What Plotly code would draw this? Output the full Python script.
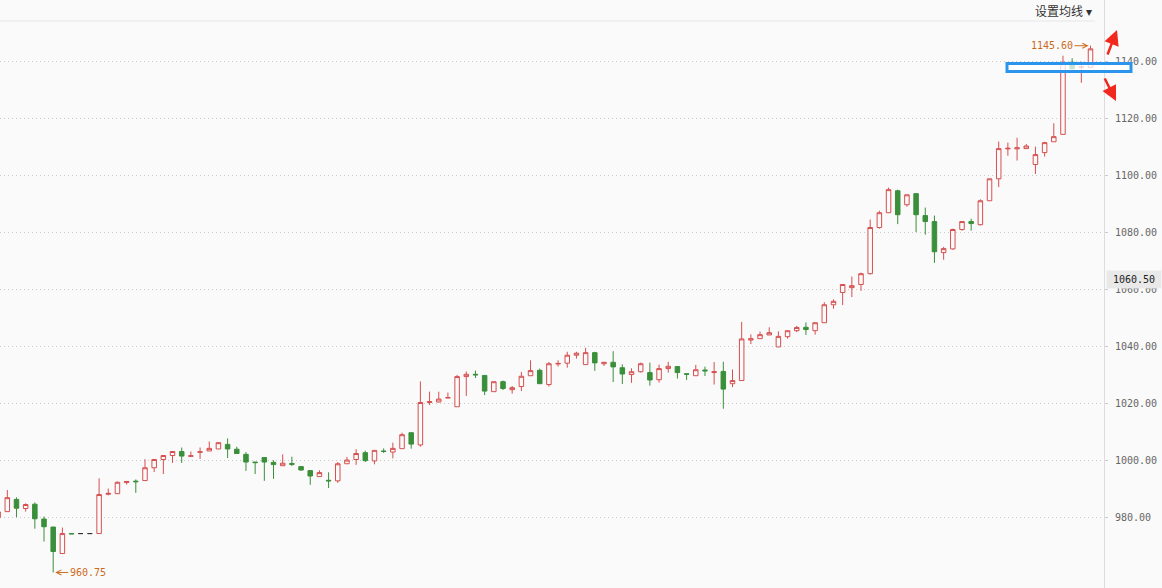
import plotly.graph_objects as go

# ---- data ----
opens = [980.0, 982.1, 986.4, 983.2, 984.7, 979.5, 976.7, 967.4, 974.4, 974.4,
         974.4, 974.4, 988.2, 988.4, 992.3, 992.8, 993.0, 997.5, 1000.4, 1001.8,
         1003.2, 1001.5, 1002.9, 1003.4, 1004.1, 1005.7, 1004.0, 1002.2, 999.5, 1001.1,
         999.4, 998.2, 999.0, 997.9, 996.5, 994.4, 993.1, 992.9, 998.9, 1000.4,
         1002.8, 999.9, 1003.4, 1003.0, 1004.2, 1009.8, 1005.5, 1020.4, 1020.6, 1022.0,
         1018.9, 1029.5, 1030.3, 1029.9, 1024.2, 1027.7, 1024.9, 1026.0, 1029.8, 1031.7,
         1026.7, 1033.9, 1034.2, 1037.0, 1033.7, 1037.9, 1034.0, 1034.5, 1032.6, 1030.2,
         1031.2, 1030.9, 1028.4, 1032.3, 1033.0, 1030.5, 1029.8, 1031.8, 1030.9, 1031.3,
         1027.0, 1028.1, 1042.3, 1042.8, 1044.1, 1039.9, 1043.5, 1045.6, 1046.8, 1045.6,
         1048.4, 1054.7, 1059.0, 1060.7, 1061.8, 1065.6, 1081.8, 1087.0, 1094.7, 1089.8,
         1093.7, 1086.0, 1083.9, 1073.0, 1074.3, 1081.1, 1083.9, 1082.8, 1091.2, 1098.9,
         1109.4, 1109.4, 1109.5, 1103.9, 1108.1, 1111.9, 1114.5, 1139.8, 1138.0, 1138.0]
highs = [983.0, 989.7, 987.1, 985.0, 985.3, 980.4, 976.7, 976.5, 974.4, 974.4,
         974.4, 993.8, 990.2, 992.7, 992.7, 993.4, 1000.5, 1000.4, 1001.8, 1003.2,
         1004.6, 1003.2, 1004.6, 1006.7, 1006.5, 1007.8, 1004.9, 1003.0, 999.5, 1001.1,
         1000.1, 1002.2, 1001.4, 998.1, 996.5, 996.6, 995.9, 999.5, 1001.3, 1004.0,
         1003.5, 1003.6, 1004.3, 1006.3, 1009.8, 1009.8, 1027.8, 1024.2, 1024.2, 1023.9,
         1030.1, 1031.3, 1031.6, 1029.9, 1027.7, 1028.1, 1026.2, 1031.1, 1035.2, 1032.3,
         1034.6, 1035.2, 1038.2, 1038.2, 1039.6, 1038.2, 1034.5, 1038.4, 1033.8, 1032.4,
         1034.4, 1034.4, 1033.7, 1034.7, 1033.0, 1030.5, 1033.6, 1033.0, 1034.6, 1034.7,
         1032.0, 1048.7, 1044.3, 1045.3, 1046.8, 1045.4, 1045.6, 1047.3, 1048.5, 1048.4,
         1055.6, 1056.6, 1061.8, 1064.6, 1066.0, 1084.6, 1087.7, 1095.8, 1095.1, 1093.3,
         1093.7, 1088.8, 1086.0, 1075.0, 1081.4, 1083.9, 1084.9, 1091.7, 1098.9, 1112.0,
         1111.6, 1113.3, 1111.1, 1110.2, 1111.9, 1118.4, 1142.1, 1141.2, 1140.0, 1145.6]
lows = [979.0, 982.1, 980.2, 982.1, 976.1, 971.6, 960.75, 967.4, 974.3, 974.4,
        974.4, 974.4, 987.8, 988.4, 991.6, 988.7, 993.0, 996.0, 995.3, 999.2,
        999.2, 1001.4, 1000.6, 1003.4, 1004.1, 1000.9, 1002.5, 996.4, 995.3, 992.9,
        993.6, 998.2, 998.1, 996.4, 991.5, 994.4, 990.4, 992.2, 998.9, 998.5,
        999.5, 998.7, 1002.7, 1000.8, 1004.2, 1004.2, 1004.9, 1019.5, 1020.4, 1022.0,
        1018.9, 1022.7, 1029.0, 1023.0, 1024.2, 1024.8, 1023.5, 1024.4, 1029.8, 1027.0,
        1026.0, 1033.0, 1032.6, 1035.8, 1033.7, 1031.5, 1033.2, 1027.6, 1026.9, 1027.3,
        1030.9, 1026.3, 1027.4, 1030.9, 1028.8, 1028.3, 1029.8, 1029.7, 1026.7, 1018.2,
        1025.8, 1028.1, 1040.9, 1042.8, 1044.1, 1039.9, 1042.8, 1045.1, 1044.1, 1044.2,
        1048.4, 1053.3, 1054.6, 1057.4, 1059.6, 1065.3, 1081.4, 1087.0, 1083.0, 1089.1,
        1080.2, 1079.3, 1069.4, 1070.5, 1074.0, 1080.7, 1080.7, 1082.5, 1091.2, 1096.0,
        1107.0, 1105.3, 1109.5, 1100.6, 1106.7, 1111.9, 1114.5, 1137.3, 1132.6, 1138.0]
closes = [982.0, 987.0, 983.3, 984.6, 979.6, 976.8, 968.1, 974.4, 974.3, 974.4,
          974.4, 988.1, 988.5, 992.4, 992.7, 992.6, 997.5, 1000.4, 1001.8, 1003.2,
          1001.6, 1001.7, 1003.1, 1004.3, 1006.3, 1004.1, 1002.5, 999.5, 999.3, 999.5,
          998.6, 999.1, 998.7, 996.7, 994.6, 995.8, 992.9, 998.9, 1000.2, 1002.5,
          1000.0, 1003.6, 1003.2, 1004.3, 1009.1, 1005.8, 1020.4, 1020.7, 1021.6, 1022.1,
          1029.5, 1030.3, 1030.1, 1024.4, 1027.7, 1025.3, 1025.6, 1029.6, 1031.6, 1027.0,
          1034.0, 1034.1, 1037.0, 1037.7, 1037.9, 1034.3, 1034.5, 1032.9, 1030.4, 1031.2,
          1034.0, 1028.3, 1032.3, 1033.1, 1030.9, 1030.3, 1031.9, 1031.5, 1031.2, 1025.1,
          1028.1, 1042.7, 1042.8, 1044.2, 1044.9, 1043.6, 1045.6, 1046.7, 1046.0, 1048.4,
          1054.7, 1055.9, 1061.8, 1061.4, 1065.6, 1081.8, 1087.0, 1095.1, 1086.3, 1093.3,
          1086.3, 1083.9, 1073.3, 1074.4, 1081.1, 1083.9, 1083.2, 1091.2, 1098.9, 1109.5,
          1109.6, 1109.8, 1110.4, 1107.4, 1111.6, 1113.7, 1139.8, 1137.5, 1138.2, 1144.5]
suspended = [9, 10]          # no-trade days drawn as flat dark dashes
tick_values = [980, 1000, 1020, 1040, 1060, 1080, 1100, 1120, 1140]
max_label = "1145.60"
min_label = "960.75"
last_label = "1060.50"
menu_label = "设置均线 ▾"

RED = "#d64f4f"
GREEN = "#3a8f3a"
BG = "#fafafa"
ORANGE = "#cc6a1c"
MONO = "DejaVu Sans Mono"

n = len(opens)
idx = list(range(n))
trade = [i for i in idx if i not in suspended]

fig = go.Figure()
fig.add_trace(go.Candlestick(
    x=trade,
    open=[opens[i] for i in trade], high=[highs[i] for i in trade],
    low=[lows[i] for i in trade], close=[closes[i] for i in trade],
    increasing=dict(line=dict(color=RED, width=1), fillcolor=BG),
    decreasing=dict(line=dict(color=GREEN, width=1), fillcolor=GREEN),
    whiskerwidth=0, hoverinfo="skip", showlegend=False,
))
fig.add_trace(go.Candlestick(
    x=suspended,
    open=[opens[i] for i in suspended], high=[highs[i] for i in suspended],
    low=[lows[i] for i in suspended], close=[closes[i] for i in suspended],
    increasing=dict(line=dict(color="#333333", width=1), fillcolor="#333333"),
    decreasing=dict(line=dict(color="#333333", width=1), fillcolor="#333333"),
    whiskerwidth=0, hoverinfo="skip", showlegend=False,
))

W, H = 1162, 588
R = 58
PW = W - R


def px_x(p):
    return p / PW


def px_y(p):
    return 1 - p / H


imax = highs.index(max(highs))
imin = lows.index(min(lows))

annotations = [
    dict(x=imax, y=highs[imax], xref="x", yref="y", text=max_label,
         showarrow=True, ax=-16, ay=0, xanchor="right", arrowhead=5,
         arrowsize=1, arrowwidth=1, arrowcolor=ORANGE, standoff=2,
         font=dict(family=MONO, size=10, color=ORANGE)),
    dict(x=imin, y=lows[imin], xref="x", yref="y", text=min_label,
         showarrow=True, ax=15, ay=0, xanchor="left", arrowhead=5,
         arrowsize=1, arrowwidth=1, arrowcolor=ORANGE, standoff=2,
         font=dict(family=MONO, size=10, color=ORANGE)),
    dict(x=1, y=1060.5, xref="paper", yref="y", text=last_label,
         showarrow=False, xanchor="left", xshift=2, yshift=9,
         bgcolor="#e9e9e9", borderpad=3, width=48,
         font=dict(family=MONO, size=10, color="#222222")),
    dict(x=px_x(1094), y=px_y(11), xref="paper", yref="paper", text=menu_label,
         showarrow=False, xanchor="right", yanchor="middle",
         font=dict(family="Noto Sans CJK SC", size=12, color="#333333")),
    # red hand-drawn arrows
    dict(x=px_x(1117), y=px_y(30), xref="paper", yref="paper", text="",
         showarrow=True, ax=-10, ay=26, arrowhead=2, arrowsize=1.2,
         arrowwidth=2.5, arrowcolor="#f0281e"),
    dict(x=px_x(1116), y=px_y(101), xref="paper", yref="paper", text="",
         showarrow=True, ax=-12, ay=-24, arrowhead=2, arrowsize=1.2,
         arrowwidth=2.5, arrowcolor="#f0281e"),
]

shapes = [
    dict(type="line", xref="paper", yref="paper", x0=0, x1=px_x(1095),
         y0=px_y(21), y1=px_y(21), line=dict(color="#e6e6e6", width=1)),
    dict(type="rect", xref="paper", yref="paper",
         x0=px_x(1007), x1=px_x(1131), y0=px_y(71.5), y1=px_y(63.5),
         line=dict(color="#2b95ee", width=3), fillcolor="rgba(255,255,255,0.75)",
         layer="above"),
]

fig.update_layout(
    width=W, height=H,
    margin=dict(l=0, r=R, t=0, b=0),
    paper_bgcolor=BG, plot_bgcolor=BG,
    boxgap=0.3,
    xaxis=dict(range=[0.205, 120.47], showticklabels=False, showgrid=False,
               zeroline=False, rangeslider=dict(visible=False), fixedrange=True),
    yaxis=dict(side="right", range=[955.3, 1161.65], tickvals=tick_values,
               tickformat=".2f", showgrid=True, gridcolor="#c8c8c8",
               griddash="1px,3px", gridwidth=1, zeroline=False,
               showline=True, linecolor="#dddddd", linewidth=1,
               ticks="outside", ticklen=3, tickcolor="#cccccc",
               ticklabelstandoff=5, fixedrange=True,
               tickfont=dict(family=MONO, size=10, color="#666666")),
    annotations=annotations,
    shapes=shapes,
    hovermode=False,
)

fig.write_html(
    "out.html",
    config={"displayModeBar": False},
    post_script="document.body.style.margin='0';document.body.style.overflow='hidden';",
)
